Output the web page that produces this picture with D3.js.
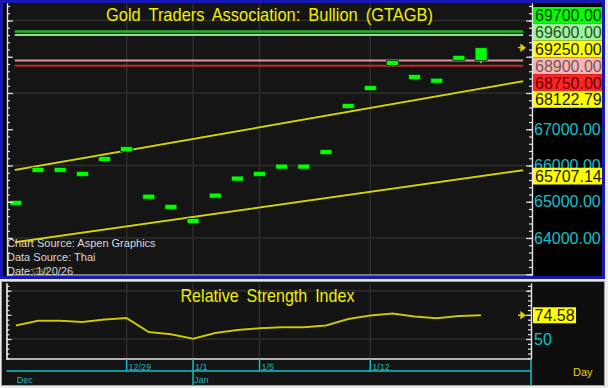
<!DOCTYPE html>
<html>
<head>
<meta charset="utf-8">
<script src="https://cdn.jsdelivr.net/npm/d3@7"></script>
<style>
body { margin: 0; background: #ececec; }
svg { display: block; font-family: "Liberation Sans", Arial, sans-serif; }
</style>
</head>
<body>
<svg width="608" height="388"></svg>
<script>
// ---- data ----
var dates = ['12/22', '12/23', '12/24', '12/25', '12/26', '12/29', '12/30', '12/31', '1/1', '1/2', '1/3',
    '1/5', '1/6', '1/7', '1/8', '1/9', '1/12', '1/13', '1/14', '1/15', '1/16', '1/19'];
var closes = [64970, 65880, 65880, 65770, 66180, 66450, 65140, 64860, 64470, 65170, 65640,
    65770, 65970, 65970, 66370, 67640, 68140, 68830, 68440, 68340, 68970, 69250];
var opens = [64970, 65880, 65880, 65770, 66180, 66450, 65140, 64860, 64470, 65170, 65640,
    65770, 65970, 65970, 66370, 67640, 68140, 68830, 68440, 68340, 68970, 68900];
var lastLow = 68820;
var rsi = [64.0, 68.9, 68.9, 67.6, 70.2, 71.7, 57.2, 54.9, 50.3, 56.2, 59.3,
    61.1, 62.1, 62.1, 64.0, 70.7, 74.3, 76.4, 73.3, 71.4, 73.8, 74.58];
var lineLevels = [69700, 69600, 68900, 68750];
var upperChannel = [65879, 68122.79];   // value at first bar, value at last bar
var lowerChannel = [63890, 65707.14];
var priceLabels = [67000, 66000, 65000, 64000];
var priceGrid = [64000, 66000, 68000, 70000];
var rsiGrid = [50, 100];
var rsiLabels = [50];
var dateTicks = ['12/29', '1/1', '1/5', '1/12'];
var monthLabels = [['Dec', '12/22'], ['Jan', '1/1']];
var notes = ['Chart Source:  Aspen  Graphics', 'Data  Source:  Thai', 'Date: 1/20/26'];

// ---- styles ----
var lineColors = ['#22b822', '#9ad89a', '#d89a9a', '#c42828'];
var levelBox = {69700: ['#00ff00', '#083808'], 69600: ['#9cf79c', '#2e4a2e'], 68900: ['#ffb4b4', '#6a5a5a'],
    68750: ['#ff2424', '#5a0000']};
var yellowBox = ['#ffff00', '#1a1a00'];
var axisWhite = '#e6e6e6', cyan = '#12c2c8', yellow = '#f0f000', chanYellow = '#d2d200';

var svg = d3.select('svg');
var plot = {l: 7, r: 532, t: 3, b: 275};
var rp = {l: 6.5, r: 531, t: 283, b: 359};

var x = d3.scaleLinear().domain([-0.4, 23.3]).range([plot.l, plot.r]);
var yP = d3.scaleLinear().domain([62979, 70483]).range([plot.b, plot.t]);
var yR = d3.scaleLinear().domain([29.3, 108]).range([rp.b, rp.t]);
var idx = function(d) { return dates.indexOf(d); };

// ---- panels ----
svg.append('rect').attr('x', 0).attr('y', 0).attr('width', 605).attr('height', 279).attr('fill', '#1818b4');
svg.append('rect').attr('x', 3).attr('y', 3).attr('width', 599).attr('height', 273).attr('fill', '#000');
svg.append('rect').attr('x', plot.l).attr('y', plot.t).attr('width', plot.r - plot.l)
    .attr('height', plot.b - plot.t).attr('fill', '#151515');

svg.append('rect').attr('x', 1.5).attr('y', 281.5).attr('width', 603).attr('height', 104)
    .attr('fill', '#141414').attr('stroke', '#a0a0a0');
svg.append('rect').attr('x', rp.r).attr('y', 282).attr('width', 72).attr('height', 103).attr('fill', '#0e0e0e');

// ---- grids ----
var grid = svg.append('g').attr('stroke', '#2e2e2e').attr('stroke-width', 1.5);
grid.selectAll('.hg').data(priceGrid).enter().append('line')
    .attr('x1', plot.l).attr('x2', plot.r)
    .attr('y1', function(d) { return yP(d); }).attr('y2', function(d) { return yP(d); });
grid.selectAll('.vg').data(dateTicks).enter().append('line')
    .attr('x1', function(d) { return x(idx(d)); }).attr('x2', function(d) { return x(idx(d)); })
    .attr('y1', plot.t).attr('y2', plot.b);
grid.selectAll('.rhg').data(rsiGrid).enter().append('line')
    .attr('x1', rp.l).attr('x2', rp.r)
    .attr('y1', function(d) { return yR(d); }).attr('y2', function(d) { return yR(d); });
grid.selectAll('.rvg').data(dateTicks).enter().append('line')
    .attr('x1', function(d) { return x(idx(d)); }).attr('x2', function(d) { return x(idx(d)); })
    .attr('y1', rp.t).attr('y2', rp.b);

// ---- title ----
svg.append('text').attr('x', (plot.l + plot.r) / 2).attr('y', 21)
    .attr('text-anchor', 'middle').attr('font-size', 19).attr('fill', yellow)
    .attr('word-spacing', 4).attr('textLength', 327).attr('lengthAdjust', 'spacingAndGlyphs')
    .text('Gold Traders Association: Bullion (GTAGB)');

// ---- horizontal level lines ----
svg.selectAll('.level').data(lineLevels).enter().append('line')
    .attr('class', 'level')
    .attr('x1', x(-0.05)).attr('x2', x(22.9))
    .attr('y1', function(d) { return yP(d); }).attr('y2', function(d) { return yP(d); })
    .attr('stroke', function(d, i) { return lineColors[i]; })
    .attr('stroke-width', function(d, i) { return i === 0 ? 2.5 : 2; });

// ---- channel lines ----
[upperChannel, lowerChannel].forEach(function(ch) {
    var v = d3.scaleLinear().domain([0, dates.length - 1]).range(ch);
    var ends = [-0.05, 22.9];
    var line = d3.line().x(function(d) { return x(d); }).y(function(d) { return yP(v(d)); });
    svg.append('path').attr('d', line(ends)).attr('fill', 'none')
        .attr('stroke', '#000').attr('stroke-width', 3.5).attr('opacity', 0.6);
    svg.append('path').attr('d', line(ends)).attr('fill', 'none')
        .attr('stroke', chanYellow).attr('stroke-width', 2);
});

// ---- bars ----
var last = dates.length - 1;
svg.append('line').attr('x1', x(last)).attr('x2', x(last))
    .attr('y1', yP(opens[last])).attr('y2', yP(lastLow))
    .attr('stroke', '#b8b850').attr('stroke-width', 1.5);
svg.selectAll('.bar').data(closes).enter().append('rect')
    .attr('class', 'bar')
    .attr('x', function(d, i) { return x(i) - 6; })
    .attr('width', 12)
    .attr('y', function(d, i) {
        var a = yP(d), b = yP(opens[i]);
        var h = Math.max(Math.abs(a - b), 5);
        return (a + b) / 2 - h / 2;
    })
    .attr('height', function(d, i) { return Math.max(Math.abs(yP(d) - yP(opens[i])), 5); })
    .attr('fill', '#00ff00').attr('stroke', '#083008').attr('stroke-width', 0.8);

// ---- axes (top panel) ----
function styleAxis(g) {
    g.selectAll('path, line').attr('stroke', axisWhite).attr('stroke-width', 1.2);
    g.selectAll('text').remove();
}
svg.append('g').attr('transform', 'translate(' + plot.l + ',0)')
    .call(d3.axisRight(yP).tickValues(d3.range(63000, 70401, 200)).tickSize(3).tickSizeOuter(0)).call(styleAxis);
svg.append('g').attr('transform', 'translate(' + plot.l + ',0)')
    .call(d3.axisRight(yP).tickValues(d3.range(63000, 70401, 1000)).tickSize(6).tickSizeOuter(0)).call(styleAxis);
svg.append('g').attr('transform', 'translate(' + plot.r + ',0)')
    .call(d3.axisLeft(yP).tickValues(d3.range(63000, 70401, 200)).tickSize(3).tickSizeOuter(0)).call(styleAxis);
svg.append('g').attr('transform', 'translate(' + plot.r + ',0)')
    .call(d3.axisLeft(yP).tickValues(d3.range(63000, 70401, 1000)).tickSize(6).tickSizeOuter(0)).call(styleAxis);
svg.append('line').attr('x1', plot.l).attr('x2', plot.r).attr('y1', plot.b).attr('y2', plot.b)
    .attr('stroke', axisWhite).attr('stroke-width', 1.2);

// price axis labels
svg.append('g').attr('transform', 'translate(' + (plot.r + 1) + ',0)')
    .call(d3.axisRight(yP).tickValues(priceLabels).tickSize(0).tickPadding(1).tickFormat(d3.format('.2f')))
    .call(function(g) {
        g.select('.domain').remove();
        g.selectAll('text').attr('font-size', 16).attr('font-family', '"Liberation Sans", Arial, sans-serif')
            .attr('fill', cyan);
    });

// ---- value boxes on price scale ----
var boxes = lineLevels.map(function(v) { return {v: v, c: levelBox[v]}; });
boxes.push({v: closes[last], c: yellowBox, fmt: true});
boxes.push({v: upperChannel[1], c: yellowBox});
boxes.push({v: lowerChannel[1], c: yellowBox});
boxes.sort(function(a, b) { return b.v - a.v; });

var bh = 16.8;
var clusters = boxes.map(function(b) { return {items: [b], mean: yP(b.v)}; });
function startOf(c) { return c.mean - (c.items.length - 1) * bh / 2; }
var merged = true;
while (merged) {
    merged = false;
    for (var i = 1; i < clusters.length; i++) {
        var a = clusters[i - 1], b = clusters[i];
        if (startOf(b) < startOf(a) + a.items.length * bh) {
            var items = a.items.concat(b.items);
            clusters.splice(i - 1, 2, {items: items, mean: d3.mean(items, function(d) { return yP(d.v); })});
            merged = true;
            break;
        }
    }
}
var minTop = plot.t + 4 + bh / 2;
clusters.forEach(function(c) {
    var s = Math.max(startOf(c), minTop);
    c.items.forEach(function(d, k) { d.cy = s + k * bh; });
});

var bx = svg.selectAll('.vbox').data(boxes).enter().append('g').attr('class', 'vbox')
    .attr('transform', function(d) { return 'translate(' + (plot.r + 1) + ',' + d.cy + ')'; });
bx.append('rect').attr('x', 0).attr('y', -bh / 2).attr('width', 69).attr('height', bh)
    .attr('fill', function(d) { return d.c[0]; });
bx.append('text').attr('x', 2).attr('y', 6).attr('font-size', 16)
    .attr('fill', function(d) { return d.c[1]; })
    .text(function(d) { return d3.format('.2f')(d.v); });

// last price arrow
function arrow(cx, cy) {
    svg.append('path')
        .attr('d', 'M' + (cx - 6) + ',' + cy + 'H' + (cx - 1) + 'M' + (cx - 3) + ',' + (cy - 3) +
            'L' + (cx + 1) + ',' + cy + 'L' + (cx - 3) + ',' + (cy + 3) + 'Z')
        .attr('stroke', '#e0d000').attr('stroke-width', 1.3).attr('fill', '#e0d000');
}
arrow(524, yP(closes[last]));

// ---- notes ----
svg.selectAll('.note').data(notes).enter().append('text')
    .attr('x', plot.l).attr('y', function(d, i) { return 247 + i * 14; })
    .attr('font-size', 11).attr('fill', '#d8d8d8').text(function(d) { return d; });
svg.append('text').attr('x', 32).attr('y', 274).attr('font-size', 8.5).attr('fill', '#8e8e20').text('Gap');

// ---- RSI panel ----
svg.append('text').attr('x', 267.5).attr('y', 301.5)
    .attr('text-anchor', 'middle').attr('font-size', 19).attr('fill', yellow)
    .attr('word-spacing', 4).attr('textLength', 174).attr('lengthAdjust', 'spacingAndGlyphs')
    .text('Relative Strength Index');

var rsiLine = d3.line().x(function(d, i) { return x(i); }).y(function(d) { return yR(d); });
svg.append('path').datum(rsi).attr('d', rsiLine).attr('fill', 'none')
    .attr('stroke', '#000').attr('stroke-width', 3.5).attr('opacity', 0.5);
svg.append('path').datum(rsi).attr('d', rsiLine).attr('fill', 'none')
    .attr('stroke', '#cfc800').attr('stroke-width', 2);

svg.append('g').attr('transform', 'translate(' + rp.l + ',0)')
    .call(d3.axisRight(yR).tickValues(d3.range(30, 106, 5)).tickSize(3).tickSizeOuter(0)).call(styleAxis);
svg.append('g').attr('transform', 'translate(' + rp.l + ',0)')
    .call(d3.axisRight(yR).tickValues([50, 75, 100]).tickSize(5).tickSizeOuter(0)).call(styleAxis);
svg.append('g').attr('transform', 'translate(' + rp.r + ',0)')
    .call(d3.axisLeft(yR).tickValues(d3.range(30, 106, 5)).tickSize(3).tickSizeOuter(0)).call(styleAxis);
svg.append('g').attr('transform', 'translate(' + rp.r + ',0)')
    .call(d3.axisLeft(yR).tickValues([50, 75, 100]).tickSize(5).tickSizeOuter(0)).call(styleAxis);
svg.append('line').attr('x1', rp.l).attr('x2', rp.r).attr('y1', rp.b).attr('y2', rp.b)
    .attr('stroke', axisWhite).attr('stroke-width', 1.5);

svg.selectAll('.rlab').data(rsiLabels).enter().append('text')
    .attr('x', rp.r + 3).attr('y', function(d) { return yR(d) + 6; })
    .attr('font-size', 16).attr('fill', cyan).text(function(d) { return d; });

var lastRsi = rsi[last];
svg.append('rect').attr('x', rp.r + 2).attr('y', yR(lastRsi) - 8).attr('width', 43).attr('height', 16)
    .attr('fill', '#ffff00');
svg.append('text').attr('x', rp.r + 3.5).attr('y', yR(lastRsi) + 6).attr('font-size', 16)
    .attr('fill', '#1a1a00').text(lastRsi.toFixed(2));
arrow(524, yR(lastRsi));

// ---- date axis ----
var dax = svg.append('g').attr('transform', 'translate(0,' + rp.b + ')');
dax.append('line').attr('x1', rp.l).attr('x2', rp.r).attr('y1', 12).attr('y2', 12)
    .attr('stroke', cyan).attr('stroke-width', 1.5);
dax.append('line').attr('x1', rp.r).attr('x2', rp.r).attr('y1', 0).attr('y2', 27)
    .attr('stroke', cyan).attr('stroke-width', 1.5);
dax.selectAll('.dt').data(dateTicks).enter().append('line')
    .attr('x1', function(d) { return x(idx(d)); }).attr('x2', function(d) { return x(idx(d)); })
    .attr('y1', 0).attr('y2', function(d) { return monthLabels.some(function(m) { return m[1] === d; }) ? 27 : 12; })
    .attr('stroke', cyan).attr('stroke-width', 1.5);
dax.selectAll('.dl').data(dateTicks).enter().append('text')
    .attr('x', function(d) { return x(idx(d)) + 2; }).attr('y', 10.5)
    .attr('font-size', 9).attr('fill', '#20b4bc').text(function(d) { return d; });
dax.selectAll('.ml').data(monthLabels).enter().append('text')
    .attr('x', function(d) { return x(idx(d[1])) + 1; }).attr('y', 23.5)
    .attr('font-size', 9).attr('fill', '#20b4bc').text(function(d) { return d[0]; });
svg.append('text').attr('x', 573).attr('y', 376).attr('font-size', 11).attr('fill', '#e0d800').text('Day');
</script>
</body>
</html>
